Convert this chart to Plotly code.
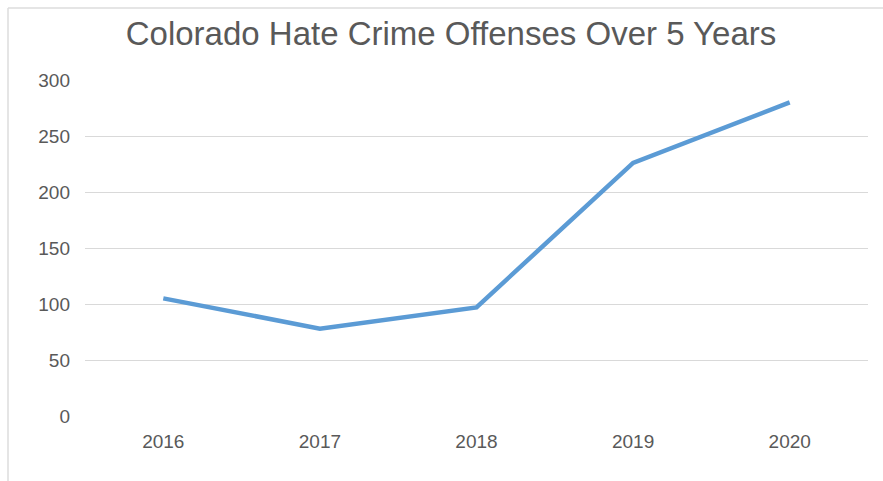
import plotly.graph_objects as go

years = ["2016", "2017", "2018", "2019", "2020"]
offenses = [105, 78, 97, 226, 280]
y_ticks = [0, 50, 100, 150, 200, 250, 300]

W, H = 883, 481
L, R, T, B = 85, 15, 80, 65
pw, ph = W - L - R, H - T - B

def px(x):
    return (x - L) / pw

def py(y):
    return (H - B - y) / ph

fig = go.Figure(go.Scatter(
    x=years, y=offenses, mode="lines",
    line=dict(color="#5B9BD5", width=4.5),
    hoverinfo="x+y"))

border = "#DDDDDD"
fig.update_layout(
    width=W, height=H,
    margin=dict(l=L, r=R, t=T, b=B),
    paper_bgcolor="white", plot_bgcolor="white",
    showlegend=False,
    font=dict(family="Liberation Sans, Arial, sans-serif", color="#595959"),
    title=dict(text="Colorado Hate Crime Offenses Over 5 Years",
               x=451 / W, xref="container", xanchor="center",
               y=1 - 33 / H, yref="container", yanchor="middle",
               font=dict(size=33, color="#595959")),
    xaxis=dict(type="category", showgrid=False, showline=False, zeroline=False,
               ticks="", ticklabelstandoff=12,
               tickfont=dict(size=19, color="#595959"),
               range=[-0.5, 4.5]),
    yaxis=dict(range=[0, 300], tickvals=y_ticks, showgrid=True,
               gridcolor="#D9D9D9", gridwidth=1, zeroline=False, showline=False,
               ticks="", ticklabelstandoff=14,
               tickfont=dict(size=19, color="#595959")),
    shapes=[
        dict(type="line", xref="paper", yref="paper", x0=px(8), x1=px(W + 5),
             y0=py(8), y1=py(8), line=dict(color=border, width=1.5)),
        dict(type="line", xref="paper", yref="paper", x0=px(8), x1=px(8),
             y0=py(8), y1=py(H + 5), line=dict(color=border, width=1.5)),
    ],
)

fig.write_html("out.html")
